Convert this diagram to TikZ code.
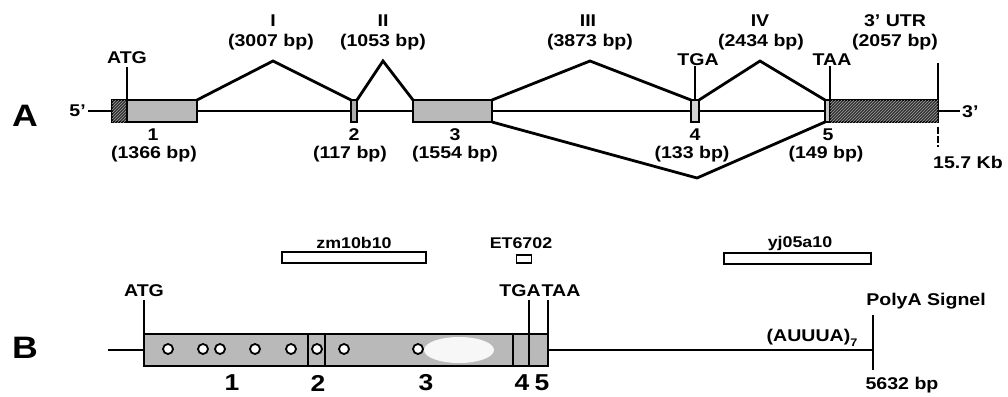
\documentclass[tikz,border=0pt]{standalone}
\usepackage{fontspec}
\setmainfont{Liberation Sans}[FakeStretch=1.15]
\usetikzlibrary{patterns,shapes.geometric}
\begin{document}
\begin{tikzpicture}[x=1pt,y=-1pt,
  lbl/.style={font=\fontsize{17}{19}\selectfont\bfseries, inner sep=0},
  clbl/.style={font=\fontsize{15.5}{17}\selectfont\bfseries, inner sep=0},
  big/.style={font=\fontsize{31}{33}\selectfont\bfseries, inner sep=0},
  dig/.style={font=\fontsize{23}{25}\selectfont\bfseries, inner sep=0},
  mainline/.style={line width=1.8pt},
  intron/.style={line width=2.8pt, line join=miter},
  tick/.style={line width=2pt},
  exon/.style={draw, line width=2pt, fill=gray!55, inner sep=0, outer sep=0, minimum height=22pt},
  hatched/.style={draw, line width=2pt, fill=gray!40!black, inner sep=0, outer sep=0, minimum height=22pt,
     postaction={pattern=north east lines, pattern color=gray!75}},
  exonB/.style={draw, line width=2pt, fill=gray!55, inner sep=0, outer sep=0},
  sepline/.style={line width=1.8pt},
  dot/.style={circle, draw, fill=white, line width=1.8pt, minimum size=10pt, inner sep=0},
  clone/.style={draw, line width=1.8pt, fill=white, inner sep=0, outer sep=0}]
\useasboundingbox (0,0) rectangle (1008,396);

% ---------------- Panel A ----------------
\node[big] (labA) at (25,116) {A};
\coordinate (a5) at (88,111);
\coordinate (a3) at (960,111);
\draw[mainline] (a5) -- (a3);
\node[lbl, anchor=east] (five) at (86,111) {5'};
\node[lbl, anchor=west] (three) at (962,112) {3'};

\node[hatched, minimum width=15pt] (e1h) at (119.5,111) {};
\node[exon, minimum width=70pt] (e1) at (162,111) {};
\node[exon, minimum width=6pt, fill=gray!65] (e2) at (354,111) {};
\node[exon, minimum width=79pt] (e3) at (452.5,111) {};
\node[exon, minimum width=8pt, fill=gray!35] (e4) at (695,111) {};
\node[exon, minimum width=5pt, fill=gray!45] (e5) at (827.5,111) {};
\node[hatched, minimum width=108pt] (utr) at (884,111) {};

\coordinate (p1) at (273,61);
\coordinate (p2) at (383,61);
\coordinate (p3) at (590,61);
\coordinate (p4) at (760,61);
\coordinate (ps) at (697,178);
\draw[intron] (e1.north east) -- (p1) -- (e2.north west);
\draw[intron] (e2.north east) -- (p2) -- (e3.north west);
\draw[intron] (e3.north east) -- (p3) -- (e4.north west);
\draw[intron] (e4.north east) -- (p4) -- (e5.north west);
\draw[intron] (e3.south east) -- (ps) -- (e5.south west);

\coordinate (atgA) at (127,67);
\coordinate (tgaA) at (695,66);
\coordinate (taaA) at (830,66);
\coordinate (utrA) at (938,63);
\coordinate (k1) at (938,127);
\coordinate (k2) at (938,147);
\draw[tick] (atgA) -- (e1.north west);
\draw[tick] (tgaA) -- (e4.north);
\draw[tick] (taaA) -- (e5.north east);
\draw[tick] (utrA) -- (utr.north east);
\draw[line width=1.2pt, dash pattern=on 7pt off 2pt] (k1) -- (k2);

\node[lbl] (tATGa) at (127,58) {ATG};
\node[lbl] (tTGAa) at (698,60) {TGA};
\node[lbl] (tTAAa) at (832,60) {TAA};

\node[lbl] (iI) at (273,21) {I};
\node[lbl] (iIbp) at (271,42) {(3007 bp)};
\node[lbl] (iII) at (383,21) {II};
\node[lbl] (iIIbp) at (383,42) {(1053 bp)};
\node[lbl] (iIII) at (588,21) {III};
\node[lbl] (iIIIbp) at (590,42) {(3873 bp)};
\node[lbl] (iIV) at (760,21) {IV};
\node[lbl] (iIVbp) at (761,42) {(2434 bp)};
\node[lbl] (utrl) at (895,21) {3' UTR};
\node[lbl] (utrbp) at (895,42) {(2057 bp)};

\node[lbl] (x1) at (153,135) {1};
\node[lbl] (x1bp) at (154,154) {(1366 bp)};
\node[lbl] (x2) at (354,135) {2};
\node[lbl] (x2bp) at (350,154) {(117 bp)};
\node[lbl] (x3) at (455,135) {3};
\node[lbl] (x3bp) at (455,154) {(1554 bp)};
\node[lbl] (x4) at (695,135) {4};
\node[lbl] (x4bp) at (692,154) {(133 bp)};
\node[lbl] (x5) at (828,135) {5};
\node[lbl] (x5bp) at (826,154) {(149 bp)};
\node[lbl] (kb) at (968,162) {15.7 Kb};

% ---------------- Panel B ----------------
\node[big] (labB) at (25,348) {B};
\coordinate (b0) at (108,350);
\coordinate (bend) at (873,350);
\draw[mainline] (b0) -- (bend);
\node[exonB, minimum width=404pt, minimum height=32pt] (bx) at (346,350) {};
\node[ellipse, fill=gray!6, draw=none, minimum width=70pt, minimum height=26pt, inner sep=0] (ell) at (459,350) {};

\coordinate (s1) at (308,350);
\coordinate (s2) at (325,350);
\coordinate (s3) at (513,350);
\draw[sepline] (s1 |- bx.north) -- (s1 |- bx.south);
\draw[line width=1.2pt] (s2 |- bx.north) -- (s2 |- bx.south);
\draw[sepline] (s3 |- bx.north) -- (s3 |- bx.south);

\coordinate (atgB) at (144,300);
\coordinate (tgaB) at (529,300);
\coordinate (taaB) at (548,300);
\draw[tick] (atgB) -- (bx.north west);
\draw[tick] (tgaB) -- (tgaB |- bx.south);
\draw[tick] (taaB) -- (bx.north east);

\node[dot] (c1) at (168,349) {};
\node[dot] (c2) at (203,349) {};
\node[dot] (c3) at (220,349) {};
\node[dot] (c4) at (255,349) {};
\node[dot] (c5) at (291,349) {};
\node[dot] (c6) at (317,349) {};
\node[dot] (c7) at (344,349) {};
\node[dot] (c8) at (418,349) {};

\node[lbl] (tATGb) at (144,291) {ATG};
\node[lbl] (tTGAb) at (520,291) {TGA};
\node[lbl] (tTAAb) at (561,291) {TAA};

\node[dig] (y1) at (232,383) {1};
\node[dig] (y2) at (318,383) {2};
\node[dig] (y3) at (426,383) {3};
\node[dig] (y4) at (522,383) {4};
\node[dig] (y5) at (542,383) {5};

\node[clone, minimum width=144pt, minimum height=11pt] (zm) at (354,257.5) {};
\node[clone, minimum width=15pt, minimum height=8pt] (et) at (524,259) {};
\node[clone, minimum width=147pt, minimum height=11pt] (yj) at (797.5,258.5) {};
\node[clbl] (zml) at (354,243) {zm10b10};
\node[clbl] (etl) at (521,243) {ET6702};
\node[clbl] (yjl) at (800,243) {yj05a10};

\coordinate (pa1) at (873,315);
\coordinate (pa2) at (873,370);
\draw[tick, line width=2.4pt] (pa1) -- (pa2);
\node[lbl] (pal) at (926,301) {PolyA Signel};
\node[lbl] (auu) at (812,338) {(AUUUA)\raisebox{-5pt}{\fontsize{11}{12}\selectfont 7}};
\node[lbl] (bp5632) at (902,385) {5632 bp};
\end{tikzpicture}
\end{document}
